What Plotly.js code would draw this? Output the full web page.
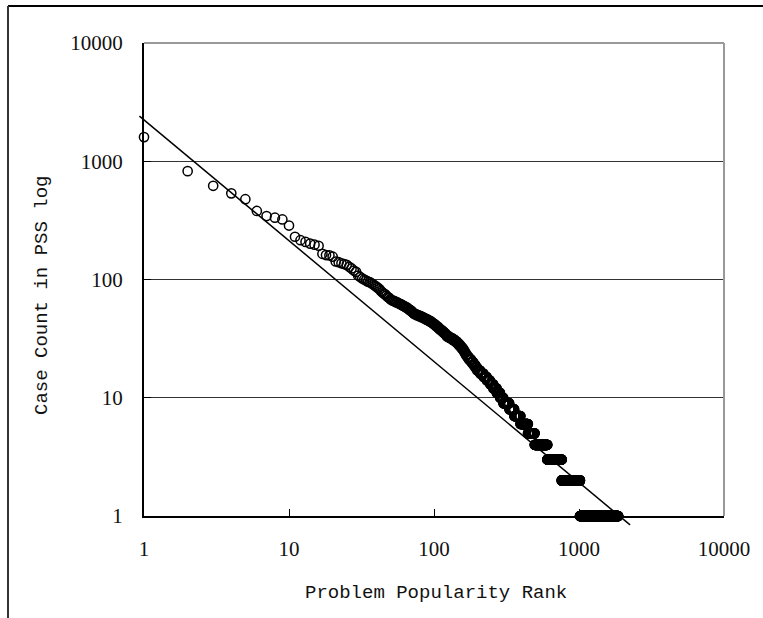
<!DOCTYPE html>
<html>
<head>
<meta charset="utf-8">
<script src="https://cdn.plot.ly/plotly-3.0.1.min.js"></script>
<style>html,body{margin:0;padding:0;background:#fff;}#chart{width:763px;height:618px;}</style>
</head>
<body>
<div id="chart"></div>
<script>
// Case counts of the 50 most popular problems (one problem each, ranks 1-50)
const topCounts = [1600, 825, 620, 535, 478, 380, 344, 333, 322, 286,
  230, 215, 208, 201, 197, 193, 165, 161, 160, 156,
  142, 140, 137, 135, 133, 128, 124, 119, 116, 108,
  105, 102, 100, 98, 96, 95, 93, 91, 89, 87,
  85, 83, 80, 78, 76, 75, 73, 71, 70, 68];
// Remaining case-count values and how many problems have each value
const tailCounts = [67, 66, 65, 64, 63, 62, 61, 60, 59, 58, 57, 56, 55, 54, 53, 52,
  51, 50, 49, 48, 47, 46, 45, 44, 43, 42, 41, 40, 39, 38, 37, 36, 35, 34,
  33, 32, 31, 30, 29, 28, 27, 26, 25, 24, 23, 22, 21, 20, 19, 18,
  17, 16, 15, 14, 13, 12, 11, 10, 9, 8, 7, 6, 5, 4, 3, 2, 1];
const tailProblems = [1, 2, 1, 2, 1, 2, 1, 2, 1, 2, 1, 1, 2, 1, 1, 1,
  3, 3, 3, 3, 3, 3, 3, 3, 2, 3, 2, 3, 2, 3, 3, 3, 3, 2,
  5, 6, 5, 5, 4, 4, 4, 4, 3, 3, 4, 5, 6, 6, 6, 6,
  10, 11, 12, 12, 13, 14, 15, 15, 30, 27, 37, 50, 50, 110, 155, 256, 845];
// Power-law trend line end points (rank, count)
const fitRanks = [0.93, 2250];
const fitCounts = [2410, 0.84];
// Axis ticks
const tickValues = [1, 10, 100, 1000, 10000];
const tickLabels = ['1', '10', '100', '1000', '10000'];
const xTitle = 'Problem Popularity Rank';
const yTitle = 'Case Count in PSS log';

const rank = [], cnt = [];
topCounts.forEach(function (c) { rank.push(rank.length + 1); cnt.push(c); });
tailCounts.forEach(function (c, i) {
  for (let k = 0; k < tailProblems[i]; k++) { rank.push(rank.length + 1); cnt.push(c); }
});

const W = 763, H = 618;
const L = 144, R = 724, T = 43, B = 516;
const pxPerDecX = (R - L) / 4, pxPerDecY = (B - T) / 4;

const tickFont = {family: 'Liberation Serif', size: 21, color: '#111'};
const titleFont = {family: 'Liberation Mono', size: 19, color: '#111'};

const data = [
  {
    type: 'scatter', mode: 'markers', x: rank, y: cnt, xaxis: 'x', yaxis: 'y',
    cliponaxis: false,
    marker: {symbol: 'circle', size: 9.2, color: 'rgba(0,0,0,0)', line: {color: '#000', width: 1.5}},
    hoverinfo: 'skip'
  },
  {
    type: 'scatter', mode: 'lines', x: fitRanks, y: fitCounts, xaxis: 'x2', yaxis: 'y2',
    line: {color: '#000', width: 1.5}, hoverinfo: 'skip'
  }
];

const layout = {
  width: W, height: H,
  margin: {l: 0, r: 0, t: 0, b: 0, pad: 0},
  paper_bgcolor: '#fff', plot_bgcolor: 'rgba(0,0,0,0)',
  showlegend: false, hovermode: false,
  xaxis: {
    type: 'log', range: [0, 4], domain: [L / W, R / W], anchor: 'y',
    tickmode: 'array', tickvals: tickValues, ticktext: tickLabels,
    ticks: 'inside', ticklen: 7, tickwidth: 1, tickcolor: '#000',
    showline: true, linecolor: '#000', linewidth: 2,
    showgrid: false, zeroline: false, tickfont: tickFont, ticklabelstandoff: 13
  },
  yaxis: {
    type: 'log', range: [0, 4], domain: [1 - B / H, 1 - T / H], anchor: 'x',
    tickmode: 'array', tickvals: tickValues, ticktext: tickLabels,
    ticks: 'inside', ticklen: 7, tickwidth: 1, tickcolor: '#000',
    showline: true, linecolor: '#000', linewidth: 2,
    showgrid: true, gridcolor: '#333', gridwidth: 1,
    zeroline: false, tickfont: tickFont, ticklabelstandoff: 15
  },
  xaxis2: {
    type: 'log', domain: [0, 1], anchor: 'y2', visible: false,
    range: [-L / pxPerDecX, 4 + (W - R) / pxPerDecX]
  },
  yaxis2: {
    type: 'log', domain: [0, 1], anchor: 'x2', visible: false,
    range: [-(H - B) / pxPerDecY, 4 + T / pxPerDecY]
  },
  shapes: [
    {type: 'line', xref: 'x domain', yref: 'y domain', x0: 0, x1: 1, y0: 1, y1: 1, line: {color: '#999', width: 2}},
    {type: 'line', xref: 'x domain', yref: 'y domain', x0: 1, x1: 1, y0: 0, y1: 1, line: {color: '#999', width: 2}},
    {type: 'line', xref: 'paper', yref: 'paper', x0: 8 / W, x1: 1, y0: 1 - 6 / H, y1: 1 - 6 / H, line: {color: '#000', width: 2}},
    {type: 'line', xref: 'paper', yref: 'paper', x0: 8 / W, x1: 8 / W, y0: 1 - 6 / H, y1: 0, line: {color: '#333', width: 2}}
  ],
  annotations: [
    {text: xTitle, xref: 'paper', yref: 'paper', x: 436 / W, y: 1 - 593 / H,
     xanchor: 'center', yanchor: 'middle', showarrow: false, font: titleFont},
    {text: yTitle, xref: 'paper', yref: 'paper', x: 42 / W, y: 1 - 296 / H, textangle: -90,
     xanchor: 'center', yanchor: 'middle', showarrow: false, font: titleFont}
  ]
};

Plotly.newPlot('chart', data, layout, {displayModeBar: false, staticPlot: true});
</script>
</body>
</html>
